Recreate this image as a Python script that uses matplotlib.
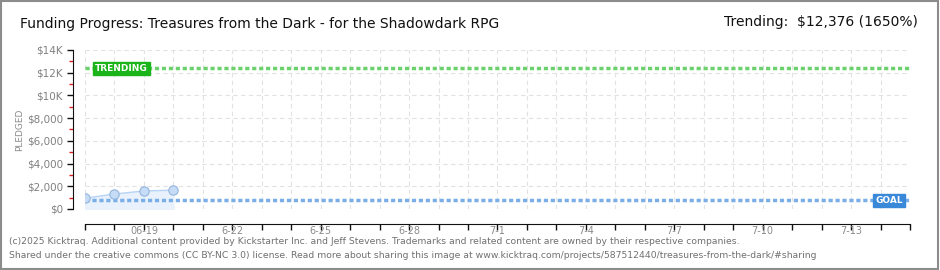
import matplotlib
matplotlib.use("Agg")
import matplotlib.pyplot as plt
import matplotlib.dates as mdates
import datetime as dt
from matplotlib.ticker import FixedLocator, NullFormatter

# data
dates = [dt.date(2025, 6, 17), dt.date(2025, 6, 18), dt.date(2025, 6, 19), dt.date(2025, 6, 20)]
pledged = [950, 1320, 1590, 1660]
goal = 750
trending = 12376
trending_pct = 1650
tick_labels = ["06-19", "6-22", "6-25", "6-28", "7-1", "7-4", "7-7", "7-10", "7-13"]
yticks = [0, 2000, 4000, 6000, 8000, 10000, 12000, 14000]
ylabels = ["$0", "$2,000", "$4,000", "$6,000", "$8,000", "$10K", "$12K", "$14K"]

x_start = dt.date(2025, 6, 17)
x_end = dt.date(2025, 7, 15)

fig = plt.figure(figsize=(9.4, 2.7), dpi=100)
ax = fig.add_axes([85 / 940, 61 / 270, 825 / 940, 159 / 270])

# grey frame around the picture
fig.patches.append(plt.Rectangle((0.001, 0.002), 0.997, 0.995, transform=fig.transFigure,
                                 fill=False, edgecolor="#8c8c8c", linewidth=1.5))

# spines first (set_position resets the ticks)
ax.spines["top"].set_visible(False)
ax.spines["right"].set_visible(False)
ax.spines["left"].set_position(("outward", 9))
ax.spines["bottom"].set_position(("outward", 11))
ax.spines["left"].set_color("#111111")
ax.spines["bottom"].set_color("#111111")

xd = mdates.date2num(dates)
ax.fill_between(xd, 0, pledged, color="#e8f1fc", zorder=2)
ax.plot(xd, pledged, color="#b8d4f4", linewidth=1, zorder=3)
ax.scatter(xd, pledged, s=45, color="#c6dcf6", edgecolor="#94b4dc", linewidth=0.8, zorder=4)

ax.axhline(goal, color="#7aaee8", linestyle=(0, (1.2, 0.8)), linewidth=2.5, zorder=3)
ax.axhline(trending, color="#6cd06c", linestyle=(0, (1.2, 0.8)), linewidth=2.5, zorder=3)

ax.set_xlim(mdates.date2num(x_start), mdates.date2num(x_end))
ax.set_ylim(0, 14000)

# x ticks: one per day, labels every third day
ax.xaxis.set_major_locator(mdates.DayLocator())
ax.xaxis.set_major_formatter(NullFormatter())
lab_pos = [mdates.date2num(x_start) + 2 + 3 * i for i in range(len(tick_labels))]
for pos, lab in zip(lab_pos, tick_labels):
    ax.annotate(lab, (pos, 0), xycoords=("data", "axes fraction"), xytext=(0, -16),
                textcoords="offset points", ha="center", va="center",
                fontsize=7, color="#8a8a8a")

ax.yaxis.set_major_locator(FixedLocator(yticks))
ax.set_yticklabels(ylabels, fontsize=7.5, color="#808080")
ax.yaxis.set_minor_locator(FixedLocator([1000, 3000, 5000, 7000, 9000, 11000, 13000]))
ax.tick_params(axis="y", which="minor", length=3, color="#e02020", width=1)
ax.tick_params(axis="y", which="major", length=4, width=1, color="#111111", pad=3)
ax.tick_params(axis="x", which="major", length=4, width=1, color="#111111", direction="out")

ax.grid(True, color="#e2e2e2", linestyle=(0, (4, 3)), linewidth=0.8, zorder=0)
ax.set_axisbelow(True)

fig.text(20 / 940, 1 - 130 / 270, "PLEDGED", fontsize=6.5, color="#8a8a8a",
         rotation=90, ha="center", va="center")

# line labels
ax.text(mdates.date2num(x_start) + 0.35, trending, "TRENDING", fontsize=6.5, color="white",
        fontweight="bold", ha="left", va="center", zorder=5,
        bbox=dict(boxstyle="square,pad=0.25", facecolor="#1bb51b", edgecolor="#1bb51b"))
ax.text(mdates.date2num(x_end) - 0.25, goal, "GOAL", fontsize=6.5, color="white",
        fontweight="bold", ha="right", va="center", zorder=5,
        bbox=dict(boxstyle="square,pad=0.25", facecolor="#3a88d8", edgecolor="#3a88d8"))

fig.text(20 / 940, 1 - 24 / 270, "Funding Progress: Treasures from the Dark - for the Shadowdark RPG",
         fontsize=10, color="#111111", ha="left", va="center")
fig.text(918 / 940, 1 - 22 / 270, f"Trending:  ${trending:,} ({trending_pct}%)",
         fontsize=10, color="#111111", ha="right", va="center")

fig.text(9 / 940, 1 - 242 / 270,
         "(c)2025 Kicktraq. Additional content provided by Kickstarter Inc. and Jeff Stevens. "
         "Trademarks and related content are owned by their respective companies.",
         fontsize=6.7, color="#707070", ha="left", va="center")
fig.text(9 / 940, 1 - 255 / 270,
         "Shared under the creative commons (CC BY-NC 3.0) license. Read more about sharing this image at "
         "www.kicktraq.com/projects/587512440/treasures-from-the-dark/#sharing",
         fontsize=6.7, color="#707070", ha="left", va="center")

fig.savefig("out.png", dpi=100)
